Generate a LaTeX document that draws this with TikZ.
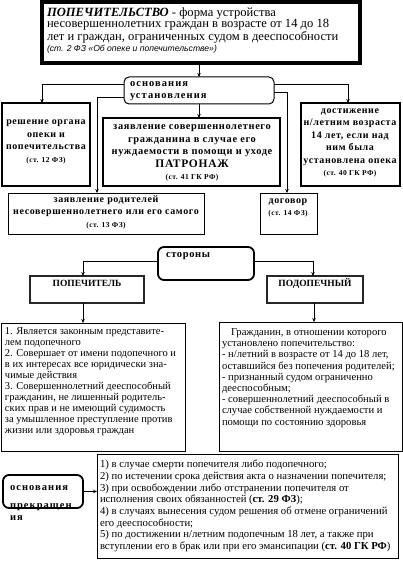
\documentclass[tikz,border=0pt]{standalone}
\usepackage{fontspec}
\setmainfont{Liberation Serif}
\newfontfamily\sansfam{Liberation Sans}
\usetikzlibrary{arrows.meta,calc}
\newcommand{\bsp}{\addfontfeatures{LetterSpace=6}}
\newcommand{\wsp}{\addfontfeatures{LetterSpace=10}}
\begin{document}
\begin{tikzpicture}[x=1pt,y=-1pt,
  box/.style={draw, line width=1pt, anchor=north west, inner sep=0pt, outer sep=0pt},
  rbox/.style={box, rounded corners=6pt, line width=1.8pt},
  txt/.style={inner sep=0pt, outer sep=0pt, align=center},
  ltxt/.style={inner sep=0pt, outer sep=0pt, align=left, anchor=west},
  arr/.style={line width=0.7pt, -{Stealth[length=4pt,width=3.5pt]}},
  bt/.style={font=\fontsize{10}{12.5}\selectfont\bfseries\bsp},
  ]
\useasboundingbox[fill=white] (0,0) rectangle (403,564);

% top box
\node[box, line width=4pt, minimum width=318pt, minimum height=61pt] (top) at (42,2) {};
\node[ltxt, font=\fontsize{12.6}{11.6}\selectfont] (toptxt) at (47,30.5)
 {{\bfseries\itshape ПОПЕЧИТЕЛЬСТВО} - форма устройства\\
  несовершеннолетних граждан в возрасте от 14 до 18\\
  лет и граждан, ограниченных судом в дееспособности\\
  {\sansfam\itshape\fontsize{8.6}{11.6}\selectfont (ст. 2 ФЗ «Об опеке и попечительстве»)}};

% основания установления
\node[box, rounded corners=5pt, line width=1pt, minimum width=150pt, minimum height=27pt] (osn) at (124,77) {};
\node[ltxt, font=\fontsize{10.5}{12}\selectfont\bfseries\wsp] (osntxt) at (130,91) {основания\\установления};

% level 1 boxes
\node[box, line width=1.4pt, minimum width=88pt, minimum height=83pt] (resh) at (2,103) {};
\node[txt, bt] (reshtxt) at (46,142) {решение органа\\опеки и\\попечительства\\{\fontsize{7.5}{10}\selectfont (ст. 12 ФЗ)}};

\node[box, line width=1.2pt, minimum width=177pt, minimum height=68pt] (zsov) at (103,118) {};
\node[txt, font=\fontsize{10.4}{12.5}\selectfont\bfseries\bsp] (zsovtxt) at (192,153) {заявление совершеннолетнего\\гражданина в случае его\\нуждаемости в помощи и уходе\\{\fontsize{11.5}{12.5}\selectfont ПАТРОНАЖ}\\{\fontsize{7.5}{10}\selectfont (ст. 41 ГК РФ)}};

\node[box, line width=1.4pt, minimum width=99pt, minimum height=83pt] (dost) at (301,103) {};
\node[txt, bt] (dosttxt) at (350,143) {достижение\\н/летним возраста\\14 лет, если над\\ним была\\установлена опека\\{\fontsize{7.5}{10}\selectfont (ст. 40 ГК РФ)}};

% level 2 boxes
\node[box, line width=1pt, minimum width=196pt, minimum height=41pt] (zrod) at (8,193) {};
\node[txt, bt] (zrodtxt) at (106,212) {заявление родителей\\несовершеннолетнего или его самого\\{\fontsize{7.5}{9}\selectfont (ст. 13 ФЗ)}};

\node[box, line width=1pt, minimum width=57pt, minimum height=41pt] (dog) at (260,193) {};
\node[txt, bt] (dogtxt) at (288,208) {договор\\{\fontsize{7.5}{10}\selectfont (ст. 14 ФЗ)}};

% connectors top
\draw[arr] (osn.north |- top.south) -- (osn.north);
\draw[arr] ([yshift=6.5pt]osn.west) -| ([xshift=-4pt]resh.north);
\draw[arr] ([yshift=-7pt]osn.west) -| ([xshift=-9pt]zrod.north);
\draw[arr] ([yshift=6.5pt]osn.east) -| ([xshift=-2.5pt]dost.north);
\draw[arr] ([yshift=-1.5pt]osn.east) -| ([xshift=-1.5pt]dog.north);
\draw[arr] (osn.south) -- (osn.south |- zsov.north);

% стороны
\node[rbox, minimum width=96pt, minimum height=33pt] (stor) at (158,247) {};
\node[ltxt, font=\fontsize{10.5}{12}\selectfont\bfseries\bsp] (stortxt) at (166,256) {стороны};

\node[box, line width=1.2pt, draw=black!85, minimum width=114pt, minimum height=27pt] (popech) at (30,276) {};
\node[txt, font=\fontsize{9.5}{11}\selectfont\bfseries] (popechtxt) at (87,283) {ПОПЕЧИТЕЛЬ};
\node[box, line width=1.2pt, draw=black!85, minimum width=96pt, minimum height=27pt] (podop) at (267,276) {};
\node[txt, font=\fontsize{9.5}{11}\selectfont\bfseries] (podoptxt) at (315,283) {ПОДОПЕЧНЫЙ};

\draw[arr] ([yshift=2.5pt]stor.west) -| ([xshift=-4pt]popech.north);
\draw[arr] ([yshift=2.5pt]stor.east) -| ([xshift=-2pt]podop.north);

% lists
\node[box, minimum width=184pt, minimum height=128pt] (list1) at (1,323) {};
\node[ltxt, font=\fontsize{10.5}{11}\selectfont] (list1txt) at (5,382)
 {1. Является законным представите-\\
  лем подопечного\\
  2. Совершает от имени подопечного и\\
  в их интересах все юридически зна-\\
  чимые действия\\
  3. Совершеннолетний дееспособный\\
  гражданин, не лишенный родитель-\\
  ских прав и не имеющий судимость\\
  за умышленное преступление против\\
  жизни или здоровья граждан};

\node[box, minimum width=183pt, minimum height=129pt] (list2) at (219,322) {};
\node[ltxt, font=\fontsize{10.6}{11.2}\selectfont] (list2txt) at (222,378)
 {\hspace*{9pt}Гражданин, в отношении которого\\
  установлено попечительство:\\
  - н/летний в возрасте от 14 до 18 лет,\\
  оставшийся без попечения родителей;\\
  - признанный судом ограниченно\\
  дееспособным;\\
  - совершеннолетний дееспособный в\\
  случае собственной нуждаемости и\\
  помощи по состоянию здоровья};

\draw[arr] ([xshift=-4pt]popech.south) -- ([xshift=-4pt]popech.south |- list1.north);
\draw[arr] ([xshift=-1pt]podop.south) -- ([xshift=-1pt]podop.south |- list2.north);

% основания прекращения
\node[rbox, minimum width=80pt, minimum height=33pt] (osnpr) at (3,475) {};
\node[ltxt, font=\fontsize{10.5}{12}\selectfont\bfseries\wsp] (osnprtxt) at (10,503) {основания\\[6pt]прекращен\\ия};

\node[box, minimum width=301pt, minimum height=104pt] (prek) at (97,454) {};
\node[ltxt, font=\fontsize{10.7}{11.7}\selectfont] (prektxt) at (100,506)
 {1) в случае смерти попечителя либо подопечного;\\
  2) по истечении срока действия акта о назначении попечителя;\\
  3) при освобождении либо отстранении попечителя от\\
  исполнения своих обязанностей ({\bfseries ст. 29 ФЗ});\\
  4) в случаях вынесения судом решения об отмене ограничений\\
  его дееспособности;\\
  5) по достижении н/летним подопечным 18 лет, а также при\\
  вступлении его в брак или при его эмансипации ({\bfseries ст. 40 ГК РФ})};

\draw[arr] (osnpr.east) -- (osnpr.east -| prek.west);
\end{tikzpicture}
\end{document}
